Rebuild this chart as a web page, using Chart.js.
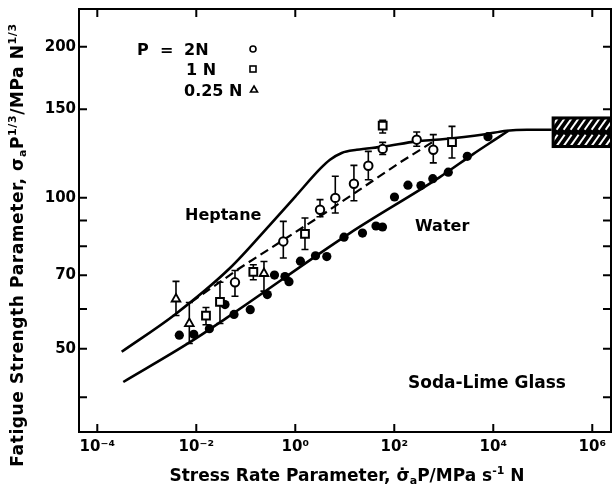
<!DOCTYPE html>
<html><head><meta charset="utf-8">
<script src="https://cdn.jsdelivr.net/npm/chart.js@4.4.1/dist/chart.umd.min.js"></script>
<style>html,body{margin:0;padding:0;background:#fff}canvas{display:block}</style>
</head><body>
<canvas id="c" width="612" height="489"></canvas>
<script>
// ---- axis ticks ----
const xTicks = [1e-4, 1e-2, 1, 1e2, 1e4, 1e6];
const xTickLabels = ['10⁻⁴', '10⁻²', '10⁰', '10²', '10⁴', '10⁶'];
const yTicks = [40, 50, 60, 70, 80, 90, 100, 150, 200];
const yTickLabels = ['', '50', '', '70', '', '', '100', '150', '200'];
const xRange = [4.27e-5, 2.39e6];
const yRange = [34.1, 237.8];

// ---- curves ----
const heptaneX = [3.11e-4, 3.72e-3, 4.8e-2, 0.308, 1.0, 3.16, 5.02, 8.65, 17.4, 59.6, 284, 832, 6310, 1.86e4, 4.79e4, 1.51e5];
const heptaneY = [49.3, 58.5, 72.4, 88.3, 100.5, 114.1, 119.0, 122.8, 124.6, 126.4, 129.5, 130.6, 133.6, 136.0, 136.6, 136.6];
const waterX = [3.35e-4, 7.46e-3, 4.11e-2, 12.7, 832, 3980, 1.36e4, 2.0e4];
const waterY = [42.9, 51.5, 57.6, 85.0, 109.9, 122.3, 132.5, 135.9];
const dashX = [7.9e-3, 7.6e-2, 3.16, 12.6, 126, 708];
const dashY = [61.9, 72.4, 91.8, 100.6, 117.3, 130.5];

// ---- water data (filled circles) ----
const waterPtX = [4.54e-3, 8.9e-3, 1.84e-2, 3.8e-2, 5.78e-2, 0.123, 0.272, 0.380, 0.619, 0.746, 1.27, 2.56, 4.33, 9.64, 22.8, 42.7, 57.8, 101, 189, 346, 600, 1233, 2985, 7816];
const waterPtY = [53.2, 53.4, 54.8, 61.2, 58.5, 59.8, 64.1, 70.1, 69.6, 68.0, 74.7, 76.6, 76.3, 83.4, 85.0, 87.8, 87.4, 100.3, 105.9, 105.7, 109.1, 112.4, 120.9, 132.3];

// ---- heptane data: P = 2 N (circles) ----
const p2X = [6.05e-2, 0.573, 3.16, 6.43, 15.3, 29.9, 58.3, 284, 614];
const p2Y = [67.8, 81.8, 94.6, 99.9, 106.6, 115.8, 125.1, 130.5, 124.6];
const p2Lo = [63.6, 75.8, 91.6, 93.2, 98.6, 108.6, 121.9, 126.6, 117.3];
const p2Hi = [71.6, 89.7, 99.1, 110.3, 116.0, 123.7, 128.9, 135.2, 133.6];
// ---- P = 1 N (squares) ----
const p1X = [1.57e-2, 3.01e-2, 0.142, 1.57, 58.3, 1466];
const p1Y = [58.2, 62.0, 71.1, 84.7, 139.2, 129.0];
const p1Lo = [55.8, 56.1, 68.6, 78.8, 134.6, 120.0];
const p1Hi = [60.4, 67.8, 73.5, 91.1, 142.6, 138.7];
// ---- P = 0.25 N (triangles) ----
const p025X = [3.89e-3, 7.23e-3, 0.233];
const p025Y = [62.8, 56.1, 70.6];
const p025Lo = [58.2, 51.2, 65.1];
const p025Hi = [68.1, 61.8, 74.6];

// ---- inert (glass) strength band ----
const bandX = [1.51e5, 1e7];
const bandY = [125.6, 145.2];

const FONT = '"DejaVu Sans", "Liberation Sans", sans-serif';
const pts = (xs, ys) => xs.map((x, i) => ({x, y: ys[i]}));

function drawRich(ctx, segs, x, y, size, align, spacing) {
  const big = `bold ${size}px ${FONT}`;
  const small = `bold ${Math.round(size * 0.66)}px ${FONT}`;
  ctx.letterSpacing = (spacing || 0) + 'px';
  const w = [];
  let total = 0;
  segs.forEach(s => { ctx.font = s.s ? small : big; const m = ctx.measureText(s.t).width; w.push(m); total += m; });
  let cx = align === 'center' ? x - total / 2 : x;
  ctx.textAlign = 'left';
  ctx.textBaseline = 'alphabetic';
  segs.forEach((s, i) => {
    ctx.font = s.s ? small : big;
    const dy = s.s === 'sup' ? -size * 0.42 : s.s === 'sub' ? size * 0.2 : 0;
    ctx.fillText(s.t, cx, y + dy);
    cx += w[i];
  });
  ctx.letterSpacing = '0px';
}

const decor = {
  id: 'decor',
  beforeDatasetsDraw(chart) {
    const {ctx, scales: {x, y}} = chart;
    const a = chart.chartArea;
    ctx.save();
    ctx.beginPath(); ctx.rect(a.left, a.top, a.right - a.left, a.bottom - a.top); ctx.clip();
    ctx.strokeStyle = '#000'; ctx.lineWidth = 1.6;
    const bars = [[p2X, p2Lo, p2Hi], [p1X, p1Lo, p1Hi], [p025X, p025Lo, p025Hi]];
    bars.forEach(([xs, lo, hi]) => {
      xs.forEach((xv, i) => {
        const px = x.getPixelForValue(xv);
        const y1 = y.getPixelForValue(lo[i]), y2 = y.getPixelForValue(hi[i]);
        ctx.beginPath();
        ctx.moveTo(px, y1); ctx.lineTo(px, y2);
        ctx.moveTo(px - 3.5, y1); ctx.lineTo(px + 3.5, y1);
        ctx.moveTo(px - 3.5, y2); ctx.lineTo(px + 3.5, y2);
        ctx.stroke();
      });
    });
    ctx.restore();
  },
  afterDatasetsDraw(chart) {
    const {ctx, scales: {x, y}} = chart;
    const a = chart.chartArea;
    // glass band
    ctx.save();
    ctx.beginPath(); ctx.rect(a.left, a.top, a.right - a.left, a.bottom - a.top); ctx.clip();
    const bx1 = x.getPixelForValue(bandX[0]), bx2 = x.getPixelForValue(bandX[1]);
    const by1 = y.getPixelForValue(bandY[1]), by2 = y.getPixelForValue(bandY[0]);
    ctx.fillStyle = '#000';
    ctx.fillRect(bx1, by1, bx2 - bx1, by2 - by1);
    const mid = (by1 + by2) / 2;
    ctx.save();
    ctx.beginPath(); ctx.rect(bx1 + 3, by1 + 3, bx2 - bx1 - 3, by2 - by1 - 6); ctx.clip();
    ctx.strokeStyle = '#fff'; ctx.lineWidth = 2;
    for (let k = bx1 - 30; k < bx2 + 30; k += 7) {
      ctx.beginPath(); ctx.moveTo(k, mid - 2.5); ctx.lineTo(k + 8, by1 + 2); ctx.stroke();
      ctx.beginPath(); ctx.moveTo(k, by2 - 2); ctx.lineTo(k + 8, mid + 2.5); ctx.stroke();
    }
    ctx.restore();
    ctx.restore();

    // frame
    ctx.save();
    ctx.strokeStyle = '#000'; ctx.lineWidth = 2;
    ctx.strokeRect(a.left, a.top, a.right - a.left, a.bottom - a.top);
    ctx.beginPath();
    xTicks.forEach(v => {
      const px = x.getPixelForValue(v);
      ctx.moveTo(px, a.bottom); ctx.lineTo(px, a.bottom - 8);
      ctx.moveTo(px, a.top); ctx.lineTo(px, a.top + 8);
    });
    yTicks.forEach(v => {
      const py = y.getPixelForValue(v);
      ctx.moveTo(a.left, py); ctx.lineTo(a.left + 8, py);
      ctx.moveTo(a.right, py); ctx.lineTo(a.right - 8, py);
    });
    ctx.stroke();
    ctx.restore();

    // texts
    ctx.save();
    ctx.fillStyle = '#000';
    ctx.font = `bold 16px ${FONT}`;
    ctx.textBaseline = 'alphabetic'; ctx.textAlign = 'left';
    ctx.fillText('Heptane', 185, 220);
    ctx.fillText('Water', 415, 231);
    ctx.font = `bold 17px ${FONT}`;
    ctx.fillText('Soda-Lime Glass', 408, 388);
    ctx.font = `bold 16px ${FONT}`;
    // legend
    ctx.fillText('P', 137, 55);
    ctx.fillText('=', 160, 55);
    ctx.fillText('2N', 184, 55);
    ctx.fillText('1 N', 186, 75);
    ctx.fillText('0.25 N', 184, 96);
    ctx.strokeStyle = '#000'; ctx.lineWidth = 1.6;
    ctx.beginPath(); ctx.arc(253, 49, 3, 0, Math.PI * 2); ctx.stroke();
    ctx.strokeRect(250, 66, 6, 6);
    ctx.beginPath(); ctx.moveTo(254, 86); ctx.lineTo(257.5, 92); ctx.lineTo(250.5, 92); ctx.closePath(); ctx.stroke();
    // axis titles
    drawRich(ctx, [
      {t: 'Stress Rate Parameter, σ̇'}, {t: 'a', s: 'sub'}, {t: 'P/MPa s'}, {t: '-1', s: 'sup'}, {t: ' N'}
    ], 347, 481, 17, 'center', 0);
    ctx.translate(23, 245);
    ctx.rotate(-Math.PI / 2);
    drawRich(ctx, [
      {t: 'Fatigue Strength Parameter, σ'}, {t: 'a', s: 'sub'}, {t: 'P'}, {t: '1/3', s: 'sup'}, {t: '/MPa N'}, {t: '1/3', s: 'sup'}
    ], 0, 0, 17, 'center', 0.6);
    ctx.restore();
  }
};

const lineBase = {type: 'line', borderColor: '#000', pointRadius: 0, fill: false};
const zeroPad = s => { s.paddingLeft = 0; s.paddingRight = 0; s.paddingTop = 0; s.paddingBottom = 0; };

new Chart(document.getElementById('c'), {
  type: 'scatter',
  data: {
    datasets: [
      {label: 'P = 2N', data: pts(p2X, p2Y), pointStyle: 'circle', pointRadius: 4.2, backgroundColor: '#fff', borderColor: '#000', borderWidth: 2, order: 1},
      {label: '1 N', data: pts(p1X, p1Y), pointStyle: 'rect', pointRadius: 5.5, backgroundColor: '#fff', borderColor: '#000', borderWidth: 2, order: 1},
      {label: '0.25 N', data: pts(p025X, p025Y), pointStyle: 'triangle', pointRadius: 5, backgroundColor: '#fff', borderColor: '#000', borderWidth: 1.8, order: 1},
      {label: 'Water data', data: pts(waterPtX, waterPtY), pointStyle: 'circle', pointRadius: 4.6, backgroundColor: '#000', borderColor: '#000', borderWidth: 0, order: 2},
      {...lineBase, label: 'Heptane', data: pts(heptaneX, heptaneY), borderWidth: 2.6, cubicInterpolationMode: 'monotone', order: 3},
      {...lineBase, label: 'Water', data: pts(waterX, waterY), borderWidth: 2.6, cubicInterpolationMode: 'monotone', order: 3},
      {...lineBase, label: 'Heptane fit', data: pts(dashX, dashY), borderWidth: 2.2, borderDash: [9, 5], tension: 0, order: 3}
    ]
  },
  options: {
    responsive: false,
    devicePixelRatio: 1,
    animation: false,
    layout: {autoPadding: false, padding: {top: 9, right: 1, left: 0, bottom: 0}},
    plugins: {legend: {display: false}, tooltip: {enabled: false}},
    scales: {
      x: {
        type: 'logarithmic', bounds: 'data', min: xRange[0], max: xRange[1],
        afterBuildTicks: s => { s.ticks = xTicks.map(v => ({value: v})); },
        afterFit: s => { s.height = 57; zeroPad(s); },
        ticks: {callback: v => xTickLabels[xTicks.indexOf(v)], color: '#000', font: {family: FONT, size: 15, weight: 'bold'}, padding: 6, maxRotation: 0, autoSkip: false},
        grid: {display: false, drawTicks: false},
        border: {display: false}
      },
      y: {
        type: 'logarithmic', bounds: 'data', min: yRange[0], max: yRange[1],
        afterBuildTicks: s => { s.ticks = yTicks.map(v => ({value: v})); },
        afterFit: s => { s.width = 79; zeroPad(s); },
        ticks: {callback: v => yTickLabels[yTicks.indexOf(v)], color: '#000', font: {family: FONT, size: 15, weight: 'bold'}, padding: 3, autoSkip: false},
        grid: {display: false, drawTicks: false},
        border: {display: false}
      }
    }
  },
  plugins: [decor]
});
</script>
</body></html>
